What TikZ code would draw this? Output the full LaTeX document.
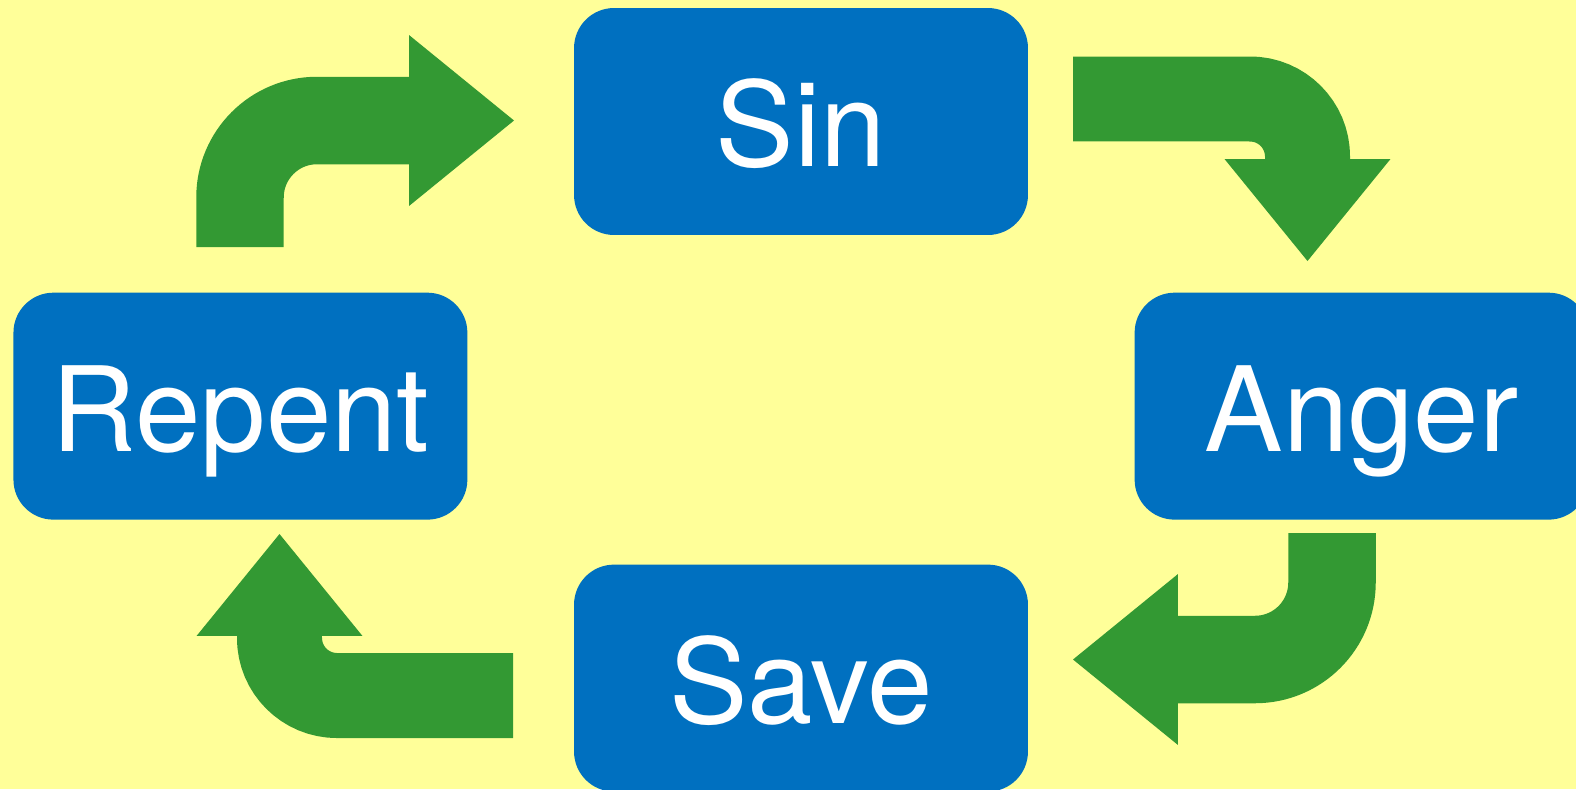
\documentclass[tikz,border=0pt]{standalone}
\usepackage{fontspec}
\setmainfont{TeX Gyre Heros}
\usepackage{tikz}
\usetikzlibrary{positioning}
\usetikzlibrary{arrows.meta}
\definecolor{pageyellow}{HTML}{FFFF99}
\definecolor{boxblue}{HTML}{0070C0}
\definecolor{turngreen}{HTML}{339933}

\begin{document}
\begin{tikzpicture}[x=0.02cm, y=-0.02cm,
    main node/.style={fill=boxblue, text=white, rounded corners=0.8cm,
        minimum width=9.08cm, minimum height=4.54cm, inner sep=0pt,
        text height=1.8cm, text depth=0pt,
        font=\fontsize{67}{80}\selectfont},
    bigturn/.style={draw=turngreen, line width=1.75cm, rounded corners=1.54cm,
        -{Triangle[length=2.1cm, width=3.42cm, line width=0pt]}},
    smallturn/.style={draw=turngreen, line width=1.7cm, rounded corners=1.15cm,
        -{Triangle[length=2.04cm, width=3.32cm, line width=0pt]}}]
    \fill[pageyellow] (0,0) rectangle (1576,789);
    \useasboundingbox (0,0) rectangle (1576,789);

    \node[main node] (sin) at (801,121.5) {Sin};
    \node[main node] (repent) [below left=1.14cm and 2.12cm of sin] {Repent};
    \node[main node] (anger) [below right=1.14cm and 2.12cm of sin] {Anger};
    \node[main node] (save) [below=6.58cm of sin] {Save};

    % ends of the turning arrows
    \coordinate (rs tail) at (240,247);
    \coordinate (rs head) at (514,120.5);
    \coordinate (sa tail) at (1073,99);
    \coordinate (sa head) at (1307.5,261);
    \coordinate (as tail) at (1332,533);
    \coordinate (as head) at (1073,659.5);
    \coordinate (sr tail) at (513,695.5);
    \coordinate (sr head) at (279.5,534);

    \draw[bigturn] (rs tail) |- (rs head);
    \draw[smallturn] (sa tail) -| (sa head);
    \draw[bigturn] (as tail) |- (as head);
    \draw[smallturn] (sr tail) -| (sr head);
\end{tikzpicture}
\end{document}
